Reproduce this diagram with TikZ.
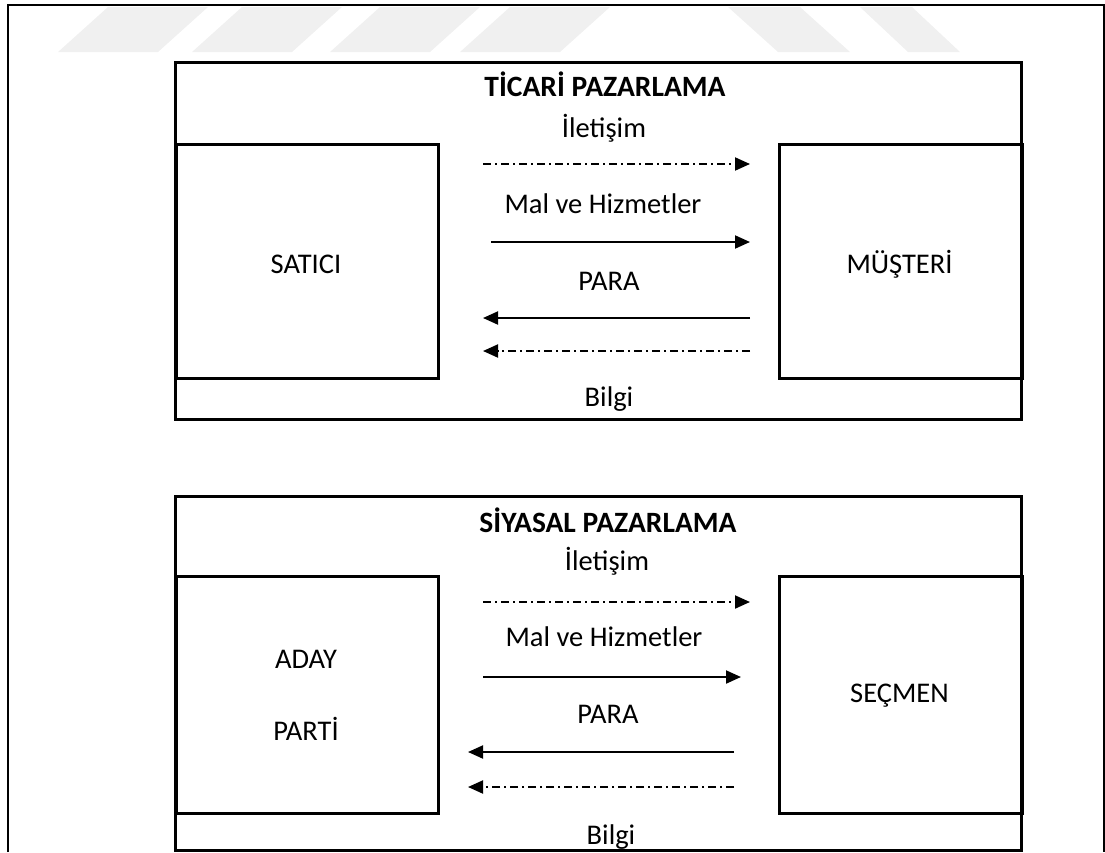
\documentclass[tikz,border=0pt]{standalone}
\usepackage{fontspec}
\setmainfont{Carlito}
\usetikzlibrary{arrows.meta}
\tikzset{
  frameline/.style={line width=2pt},
  boxline/.style={draw, line width=3pt},
  lbl/.style={anchor=base, inner sep=0pt, font=\fontsize{28.5}{34}\selectfont},
  ttl/.style={lbl, font=\fontsize{29.5}{34}\selectfont\bfseries},
  flow/.style={line width=2pt, -{Triangle[length=15pt,width=13pt]}},
  dflow/.style={flow, dash pattern=on 8pt off 4pt on 2pt off 4pt},
  wm/.style={fill=black!6, draw=none}
}
\begin{document}
\begin{tikzpicture}[x=1pt,y=-1pt]
\useasboundingbox (0,0) rectangle (1105,852);
% watermark stripes
\foreach \bx in {58,192,330,460}{
  \fill[wm] (\bx,52) -- (\bx+100,52) -- (\bx+150,7) -- (\bx+50,7) -- cycle;
}
\fill[wm] (728,7) -- (800,7) -- (850,52) -- (778,52) -- cycle;
\fill[wm] (860,7) -- (912,7) -- (960,52) -- (908,52) -- cycle;
% outer frame
\draw[frameline] (8,852) -- (8,5) -- (1104,5) -- (1104,852);

% ---------- top: TICARI PAZARLAMA ----------
\draw[boxline] (175,62) rectangle (1021,419);
\node[boxline, minimum width=262pt, minimum height=234pt, anchor=north west, inner sep=0pt] (satici) at (175,143) {};
\node[boxline, minimum width=243pt, minimum height=234pt, anchor=north west, inner sep=0pt] (musteri) at (778,143) {};
\node[lbl] (saticiT) at (306,273) {SATICI};
\node[lbl] (musteriT) at (899.5,273) {MÜŞTERİ};
\node[ttl] (t1) at (605,96) {TİCARİ PAZARLAMA};
\node[lbl] (il1) at (604,137) {İletişim};
\node[lbl] (mh1) at (603,213) {Mal ve Hizmetler};
\node[lbl] (pa1) at (609,290) {PARA};
\node[lbl] (bi1) at (609,406) {Bilgi};
\coordinate (a1s) at (483,164); \coordinate (a1e) at (750,164);
\coordinate (a2s) at (491,242); \coordinate (a2e) at (750,242);
\coordinate (a3s) at (750,318); \coordinate (a3e) at (483,318);
\coordinate (a4s) at (750,351); \coordinate (a4e) at (483,351);
\draw[dflow] (a1s) -- (a1e);
\draw[flow] (a2s) -- (a2e);
\draw[flow] (a3s) -- (a3e);
\draw[dflow] (a4s) -- (a4e);

% ---------- bottom: SIYASAL PAZARLAMA ----------
\draw[boxline] (175,496) rectangle (1021,850);
\node[boxline, minimum width=262pt, minimum height=237pt, anchor=north west, inner sep=0pt] (aday) at (175,575) {};
\node[boxline, minimum width=243pt, minimum height=237pt, anchor=north west, inner sep=0pt] (secmen) at (778,575) {};
\node[lbl] (adayT) at (306,668) {ADAY};
\node[lbl] (partiT) at (306,740) {PARTİ};
\node[lbl] (secmenT) at (899.5,702) {SEÇMEN};
\node[ttl] (t2) at (608,532) {SİYASAL PAZARLAMA};
\node[lbl] (il2) at (607,570) {İletişim};
\node[lbl] (mh2) at (604,646) {Mal ve Hizmetler};
\node[lbl] (pa2) at (608,723) {PARA};
\node[lbl] (bi2) at (611,844) {Bilgi};
\coordinate (b1s) at (483,602); \coordinate (b1e) at (750,602);
\coordinate (b2s) at (483,677); \coordinate (b2e) at (741,677);
\coordinate (b3s) at (734,752); \coordinate (b3e) at (468,752);
\coordinate (b4s) at (734,787); \coordinate (b4e) at (468,787);
\draw[dflow] (b1s) -- (b1e);
\draw[flow] (b2s) -- (b2e);
\draw[flow] (b3s) -- (b3e);
\draw[dflow] (b4s) -- (b4e);
\end{tikzpicture}
\end{document}
